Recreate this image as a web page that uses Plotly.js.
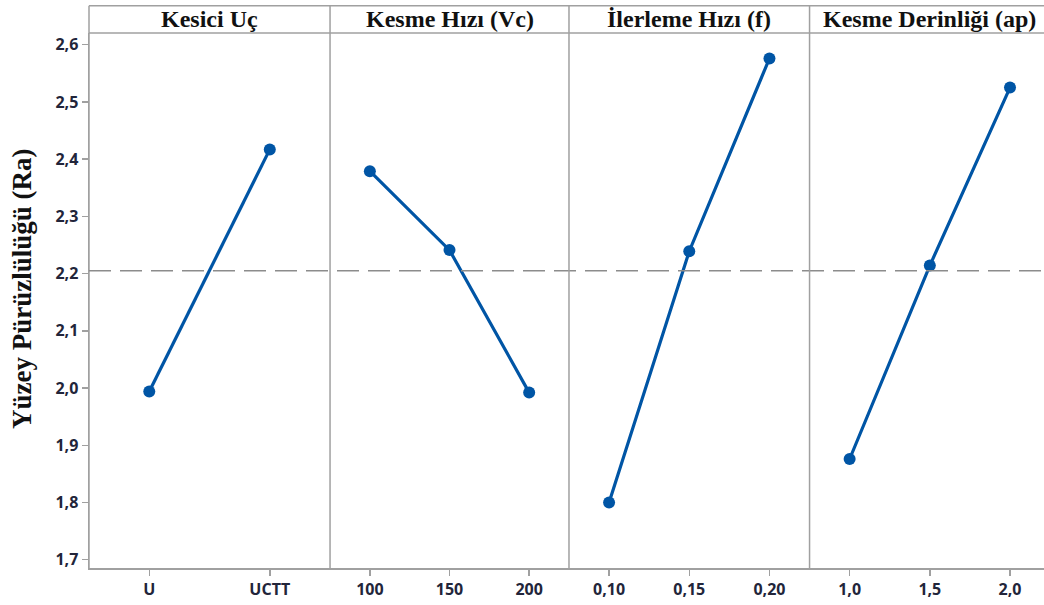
<!DOCTYPE html>
<html>
<head>
<meta charset="utf-8">
<script src="https://cdn.plot.ly/plotly-3.0.1.min.js"></script>
<style>html,body{margin:0;padding:0;background:#fff;}#chart{width:1044px;height:605px;}</style>
</head>
<body>
<div id="chart"></div>
<script>
// Factor names (panel headers)
var factorNames = ["Kesici Uç", "Kesme Hızı (Vc)", "İlerleme Hızı (f)", "Kesme Derinliği (ap)"];
// Levels of each factor
var levelsKesici = ["U", "UCTT"];
var levelsVc = ["100", "150", "200"];
var levelsF = ["0,10", "0,15", "0,20"];
var levelsAp = ["1,0", "1,5", "2,0"];
// Mean Ra values for each level
var meansKesici = [1.994, 2.417];
var meansVc = [2.379, 2.241, 1.992];
var meansF = [1.800, 2.239, 2.576];
var meansAp = [1.876, 2.214, 2.525];
// Grand mean (reference line)
var grandMean = 2.205;
// Y tick values and labels
var yTickVals = [1.7, 1.8, 1.9, 2.0, 2.1, 2.2, 2.3, 2.4, 2.5, 2.6];
var yTickText = ["1,7", "1,8", "1,9", "2,0", "2,1", "2,2", "2,3", "2,4", "2,5", "2,6"];
var yTitle = "Yüzey Pürüzlülüğü (Ra)";

var blue = "#0055a5";
var grid = "#a0a0a0";
var tickFont = {family: "Open Sans, sans-serif", size: 16, color: "#22253a", weight: 700};
var headFont = {family: "Liberation Serif, Times New Roman, serif", size: 24, color: "#111111", weight: 700};

function tr(x, y, xa) {
  return {x: x, y: y, xaxis: xa, yaxis: "y", type: "scatter", mode: "lines+markers",
    line: {color: blue, width: 3.2}, marker: {color: blue, size: 12, symbol: "circle"},
    showlegend: false, hoverinfo: "x+y"};
}
var data = [
  tr(levelsKesici, meansKesici, "x"),
  tr(levelsVc, meansVc, "x2"),
  tr(levelsF, meansF, "x3"),
  tr(levelsAp, meansAp, "x4")
];

var d = [0, 0.2524, 0.5026, 0.7545, 1];
function xa(i, rng) {
  return {domain: [d[i], d[i+1]], anchor: "y", type: "category", range: rng,
    showline: true, linecolor: grid, linewidth: 1.5, ticks: "outside", ticklen: 6,
    tickcolor: grid, tickwidth: 1.5, tickfont: tickFont, showgrid: false, zeroline: false,
    fixedrange: true};
}
var headTop = 1 + 27.3 / 535;

var shapes = [
  {type: "line", xref: "paper", yref: "paper", x0: 0, x1: 1, y0: headTop, y1: headTop, line: {color: grid, width: 1.5}},
  {type: "line", xref: "paper", yref: "paper", x0: 0, x1: 1, y0: 1, y1: 1, line: {color: grid, width: 1.5}},
  {type: "line", xref: "paper", yref: "paper", x0: 0, x1: 0, y0: 0, y1: headTop, line: {color: grid, width: 1.5}},
  {type: "line", xref: "paper", yref: "y", x0: 0, x1: 1, y0: grandMean, y1: grandMean, line: {color: "#8c8c8c", width: 1.5, dash: "22px,9px"}}
];
for (var i = 1; i < 4; i++) {
  shapes.push({type: "line", xref: "paper", yref: "paper", x0: d[i], x1: d[i], y0: 0, y1: headTop, line: {color: grid, width: 1.5}});
}
var headCenters = [0.1262, 0.3775, 0.6285, 0.880];
var annotations = factorNames.map(function (n, i) {
  return {text: n, xref: "paper", yref: "paper", x: headCenters[i], y: (1 + headTop) / 2,
    xanchor: "center", yanchor: "middle", showarrow: false, font: headFont};
});
annotations.push({text: yTitle, xref: "paper", yref: "paper", x: (22 - 89) / 955, y: (568 - 289) / 535,
  xanchor: "center", yanchor: "middle", textangle: -90, showarrow: false,
  font: {family: "Liberation Serif, Times New Roman, serif", size: 27, color: "#111111", weight: 700}});

var layout = {
  width: 1044, height: 605,
  margin: {l: 89, r: 0, t: 33, b: 37, pad: 0},
  paper_bgcolor: "#ffffff", plot_bgcolor: "#ffffff",
  showlegend: false,
  xaxis: xa(0, [-0.5, 1.5]),
  xaxis2: xa(1, [-0.5, 2.5]),
  xaxis3: xa(2, [-0.5, 2.5]),
  xaxis4: xa(3, [-0.5, -0.5 + 234.5 / 80.2]),
  yaxis: {domain: [0, 1], anchor: "x", range: [1.6855, 2.6204], tickvals: yTickVals, ticktext: yTickText,
    showline: true, linecolor: grid, linewidth: 1.5, ticks: "outside", ticklen: 6, tickcolor: grid, tickwidth: 1.5,
    tickfont: tickFont, showgrid: false, zeroline: false, fixedrange: true},
  shapes: shapes,
  annotations: annotations
};
Plotly.newPlot("chart", data, layout, {displayModeBar: false, staticPlot: true});
</script>
</body>
</html>
